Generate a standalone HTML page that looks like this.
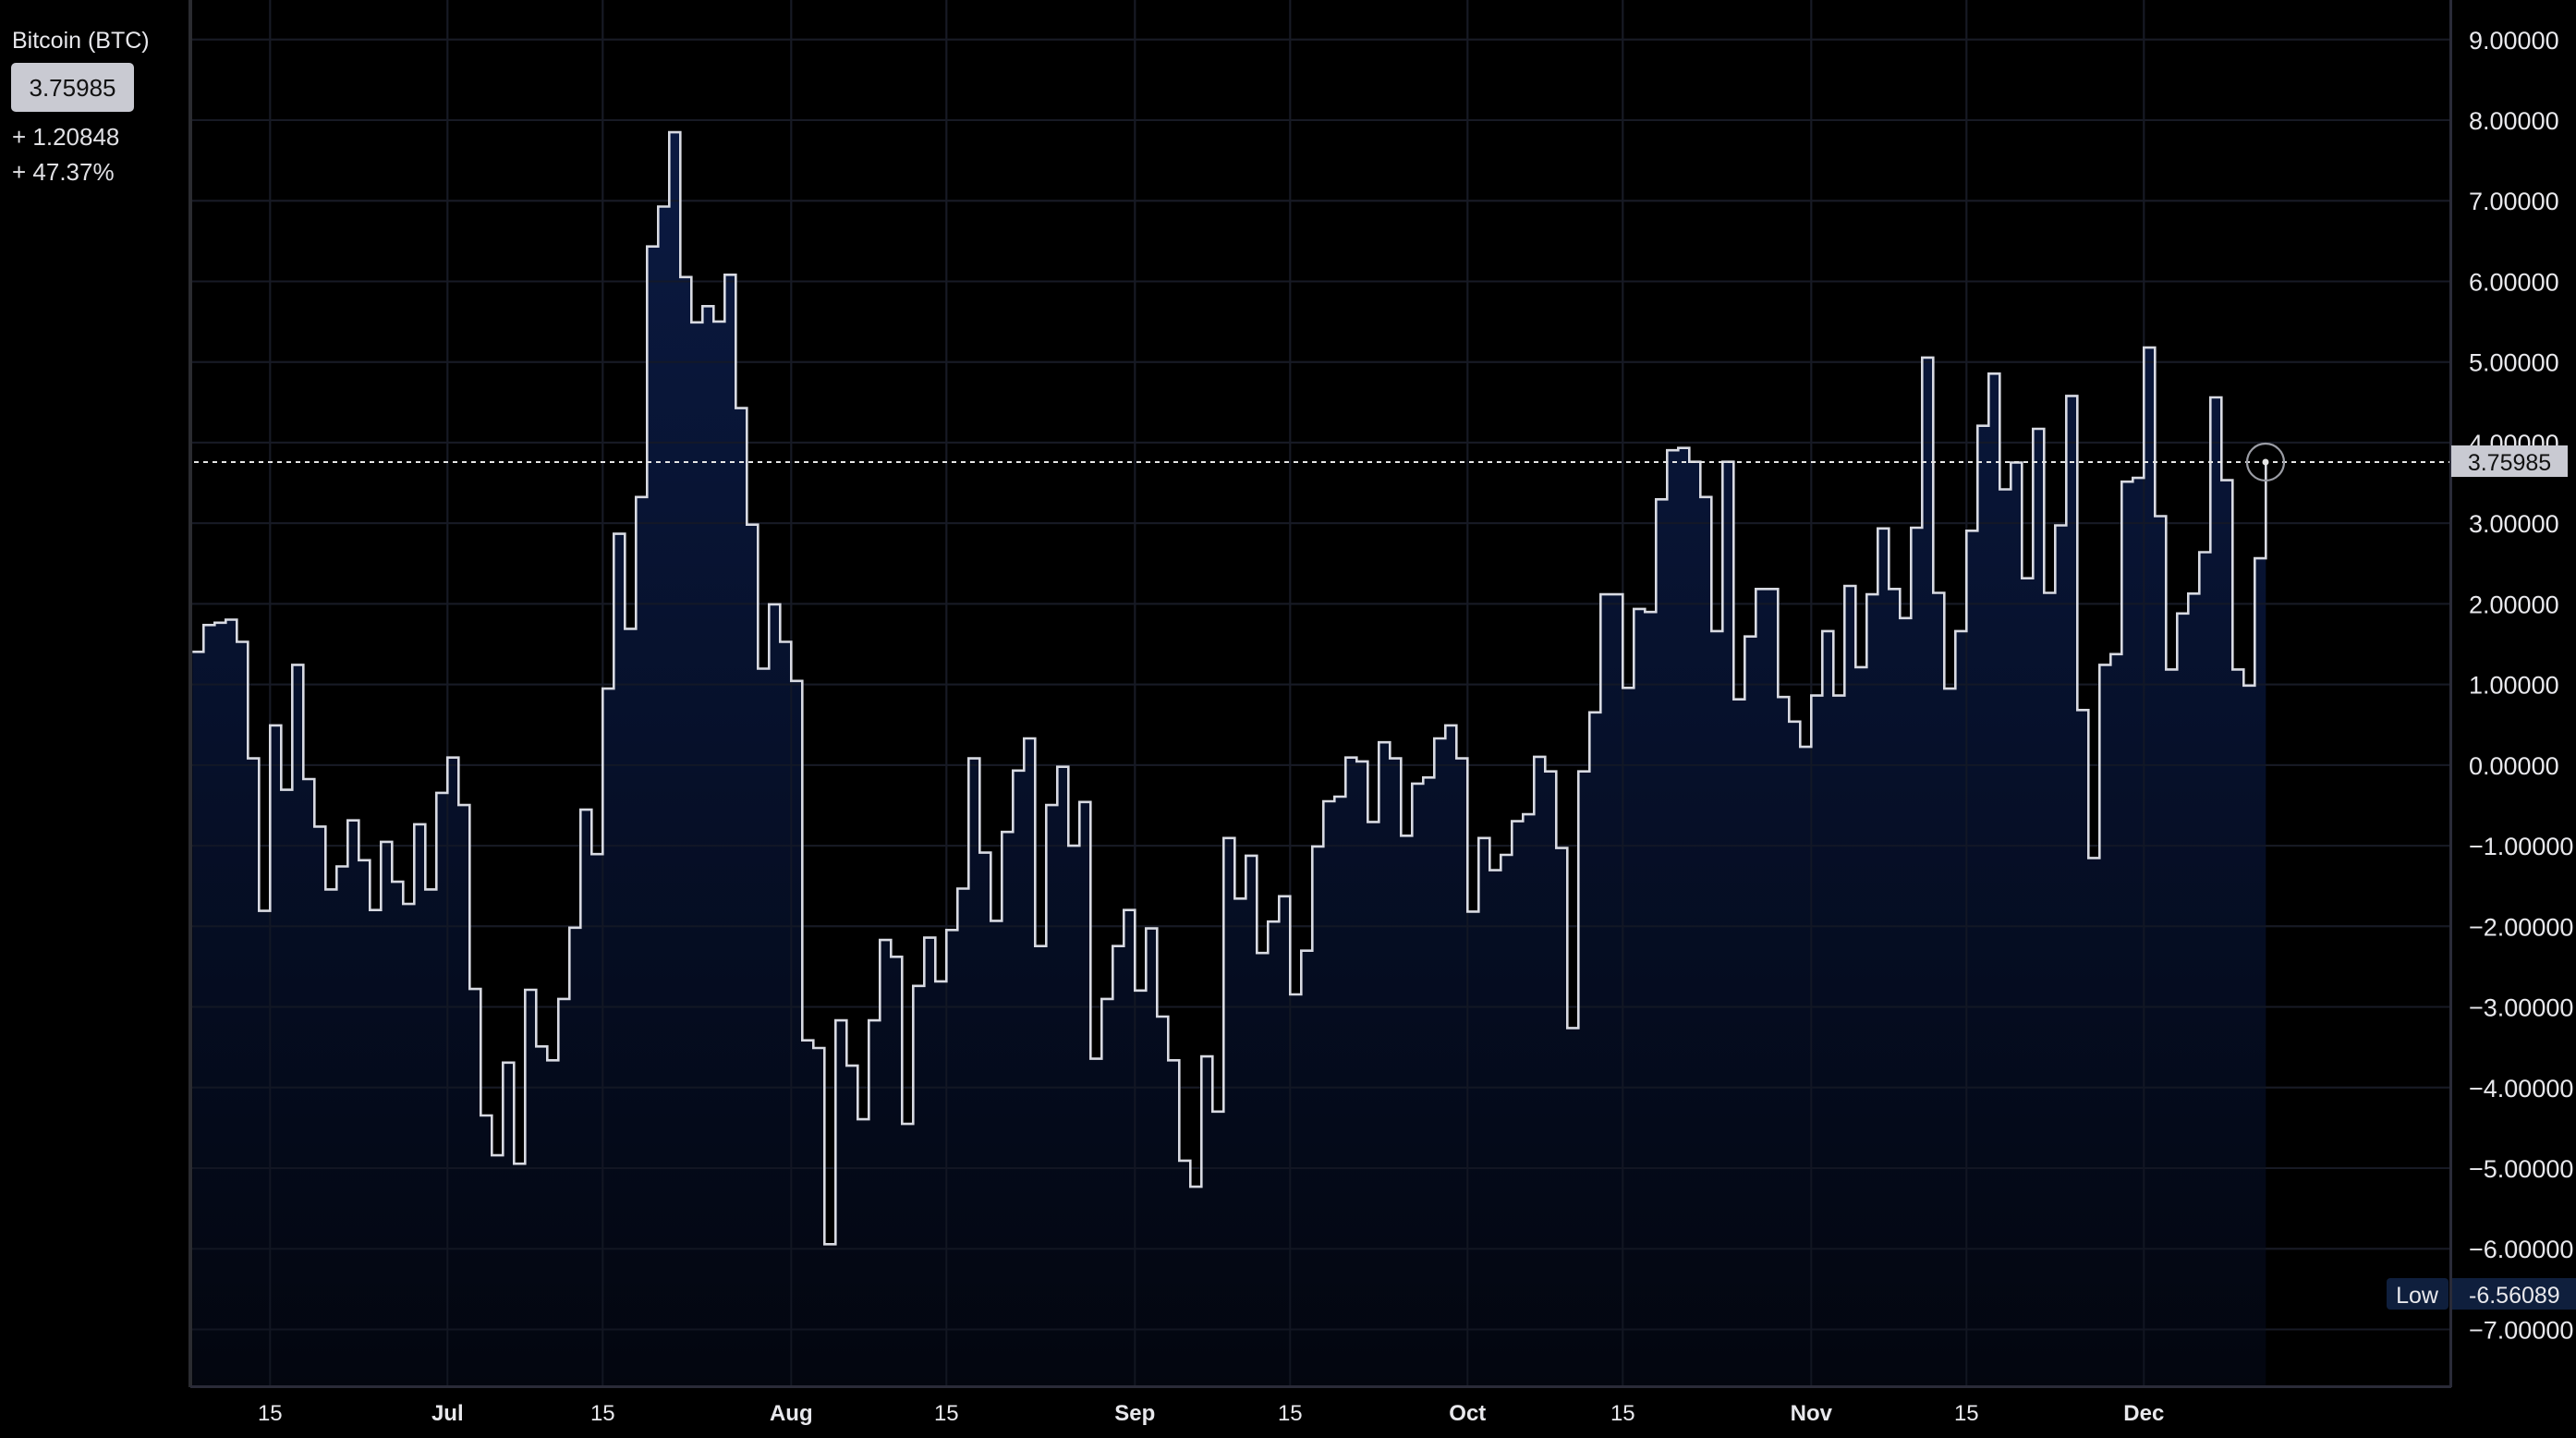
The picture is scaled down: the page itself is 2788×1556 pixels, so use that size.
<!DOCTYPE html>
<html><head><meta charset="utf-8"><style>
html,body{margin:0;padding:0;background:#000;}
body{width:2788px;height:1556px;overflow:hidden;position:relative;font-family:"Liberation Sans",sans-serif;}
svg{position:absolute;left:0;top:0;}
</style></head><body>
<svg id="s" width="2788" height="1556" viewBox="0 0 2788 1556" xmlns="http://www.w3.org/2000/svg">
<defs>
<linearGradient id="g" x1="0" y1="0" x2="0" y2="1" gradientUnits="objectBoundingBox">
<stop offset="0" stop-color="#0b1a42"/>
<stop offset="0.5" stop-color="#06102a"/>
<stop offset="1" stop-color="#03060f"/>
</linearGradient>
<clipPath id="pc"><rect x="207" y="0" width="2445" height="1500"/></clipPath>
</defs>
<rect width="2788" height="1556" fill="#000"/>
<g id="grid" stroke="#1c1d22" stroke-width="2"></g>
<g clip-path="url(#pc)">
<path id="area" fill="url(#g)"/>
<g id="grid2" stroke="#161a26" stroke-width="2" opacity="0.8"></g>
<path id="line" fill="none" stroke="#d8dae2" stroke-width="2.6" stroke-linejoin="miter"/>
</g>
<line x1="210" y1="500" x2="2652" y2="500" stroke="#e6e6e6" stroke-width="2" stroke-dasharray="5,5"/>
<circle cx="2452" cy="500" r="20" fill="none" stroke="#9a9ca4" stroke-width="2.2"/>
<circle cx="2452" cy="500" r="3.5" fill="#e6e6e6"/>
<line x1="206" y1="0" x2="206" y2="1501" stroke="#2a2b30" stroke-width="4"/>
<line x1="206" y1="1500.5" x2="2653" y2="1500.5" stroke="#2a2b38" stroke-width="3"/>
<line x1="2652.5" y1="0" x2="2652.5" y2="1501" stroke="#2a2b38" stroke-width="3"/>
<g id="ylab" font-family="Liberation Sans, sans-serif" font-size="27" fill="#e8e8ec"></g>
<g id="xlab" font-family="Liberation Sans, sans-serif" font-size="24" fill="#e8e8ec" text-anchor="middle"></g>
<rect x="2653" y="482" width="126" height="34" fill="#c9cad2"/>
<text x="2716" y="509" font-family="Liberation Sans, sans-serif" font-size="25" fill="#111" text-anchor="middle">3.75985</text>
<rect x="2583" y="1383" width="67" height="34" rx="4" fill="#0f1f3d"/>
<text x="2616" y="1410" font-family="Liberation Sans, sans-serif" font-size="25" fill="#e8e8ec" text-anchor="middle">Low</text>
<rect x="2654" y="1383" width="134" height="34" fill="#0f1f3d"/>
<text x="2672" y="1410" font-family="Liberation Sans, sans-serif" font-size="25" fill="#e8e8ec">-6.56089</text>
<text x="13" y="52" font-family="Liberation Sans, sans-serif" font-size="25" fill="#e8e8ec">Bitcoin (BTC)</text>
<rect x="12" y="68" width="133" height="53" rx="5" fill="#c9cad2"/>
<text x="78.5" y="104" font-family="Liberation Sans, sans-serif" font-size="26" fill="#111" text-anchor="middle">3.75985</text>
<text x="13" y="157" font-family="Liberation Sans, sans-serif" font-size="26" fill="#e0e0e4">+ 1.20848</text>
<text x="13" y="195" font-family="Liberation Sans, sans-serif" font-size="26" fill="#e0e0e4">+ 47.37%</text>
</svg>
<script>
var zy=[730,695,692,688,717,869,1068,826,910,747,896,958,1040,1010,950,1002,1067,978,1030,1059,955,1040,914,868,930,1170,1335,1387,1266,1398,1171,1245,1263,1183,1090,936,994,778,576,700,528,201,149,52,241,300,279,299,238,412,564,752,668,717,768,1237,1247,1503,1211,1270,1340,1211,1106,1128,1346,1166,1103,1160,1093,1039,869,992,1081,965,885,843,1114,930,880,983,926,1261,1183,1114,1067,1172,1091,1206,1263,1394,1428,1258,1330,973,1052,996,1123,1082,1049,1177,1120,984,925,919,868,873,952,848,869,970,902,894,843,826,869,1069,973,1015,995,951,942,867,886,986,1221,886,809,655,655,777,674,678,531,467,464,482,528,703,482,792,710,648,648,789,821,854,787,703,787,644,750,655,569,648,686,568,346,653,778,703,572,435,367,518,483,634,439,653,565,396,806,999,747,733,508,503,333,553,753,680,654,600,398,506,753,774,608];
var NS="http://www.w3.org/2000/svg";
var X0=208.3,W=12.0;
function Y(z){return 100+z/1.206;}
var d="",i,x;
d="M"+X0+" "+Y(zy[0]).toFixed(1);
for(i=0;i<zy.length;i++){
  x=X0+(i+1)*W;
  d+=" H"+x.toFixed(1);
  var ny=(i+1<zy.length)?Y(zy[i+1]):500;
  d+=" V"+ny.toFixed(1);
}
document.getElementById("line").setAttribute("d",d);
document.getElementById("area").setAttribute("d",d+" V1500 H"+X0+" Z");
function el(t,a,txt){var e=document.createElementNS(NS,t);for(var k in a)e.setAttribute(k,a[k]);if(txt!=null)e.textContent=txt;return e;}
var grid=document.getElementById("grid"),grid2=document.getElementById("grid2"),yl=document.getElementById("ylab"),xl=document.getElementById("xlab");
for(var v=9;v>=-7;v--){
  var y=130+(8-v)*87.23;
  grid.appendChild(el("line",{x1:207,y1:y,x2:2652,y2:y}));
  grid2.appendChild(el("line",{x1:207,y1:y,x2:2652,y2:y}));
  var s=(v<0?"\u2212"+(-v):""+v)+".00000";
  yl.appendChild(el("text",{x:2672,y:y+10},s));
}
var ticks=[[7,"15",0],[23,"Jul",1],[37,"15",0],[54,"Aug",1],[68,"15",0],[85,"Sep",1],[99,"15",0],[115,"Oct",1],[129,"15",0],[146,"Nov",1],[160,"15",0],[176,"Dec",1]];
ticks.forEach(function(t){
  var x=X0+t[0]*W;
  grid.appendChild(el("line",{x1:x,y1:0,x2:x,y2:1500}));
  grid2.appendChild(el("line",{x1:x,y1:0,x2:x,y2:1500}));
  var a={x:x,y:1537};
  if(t[2])a["font-weight"]="bold";
  xl.appendChild(el("text",a,t[1]));
});
</script>
</body></html>
